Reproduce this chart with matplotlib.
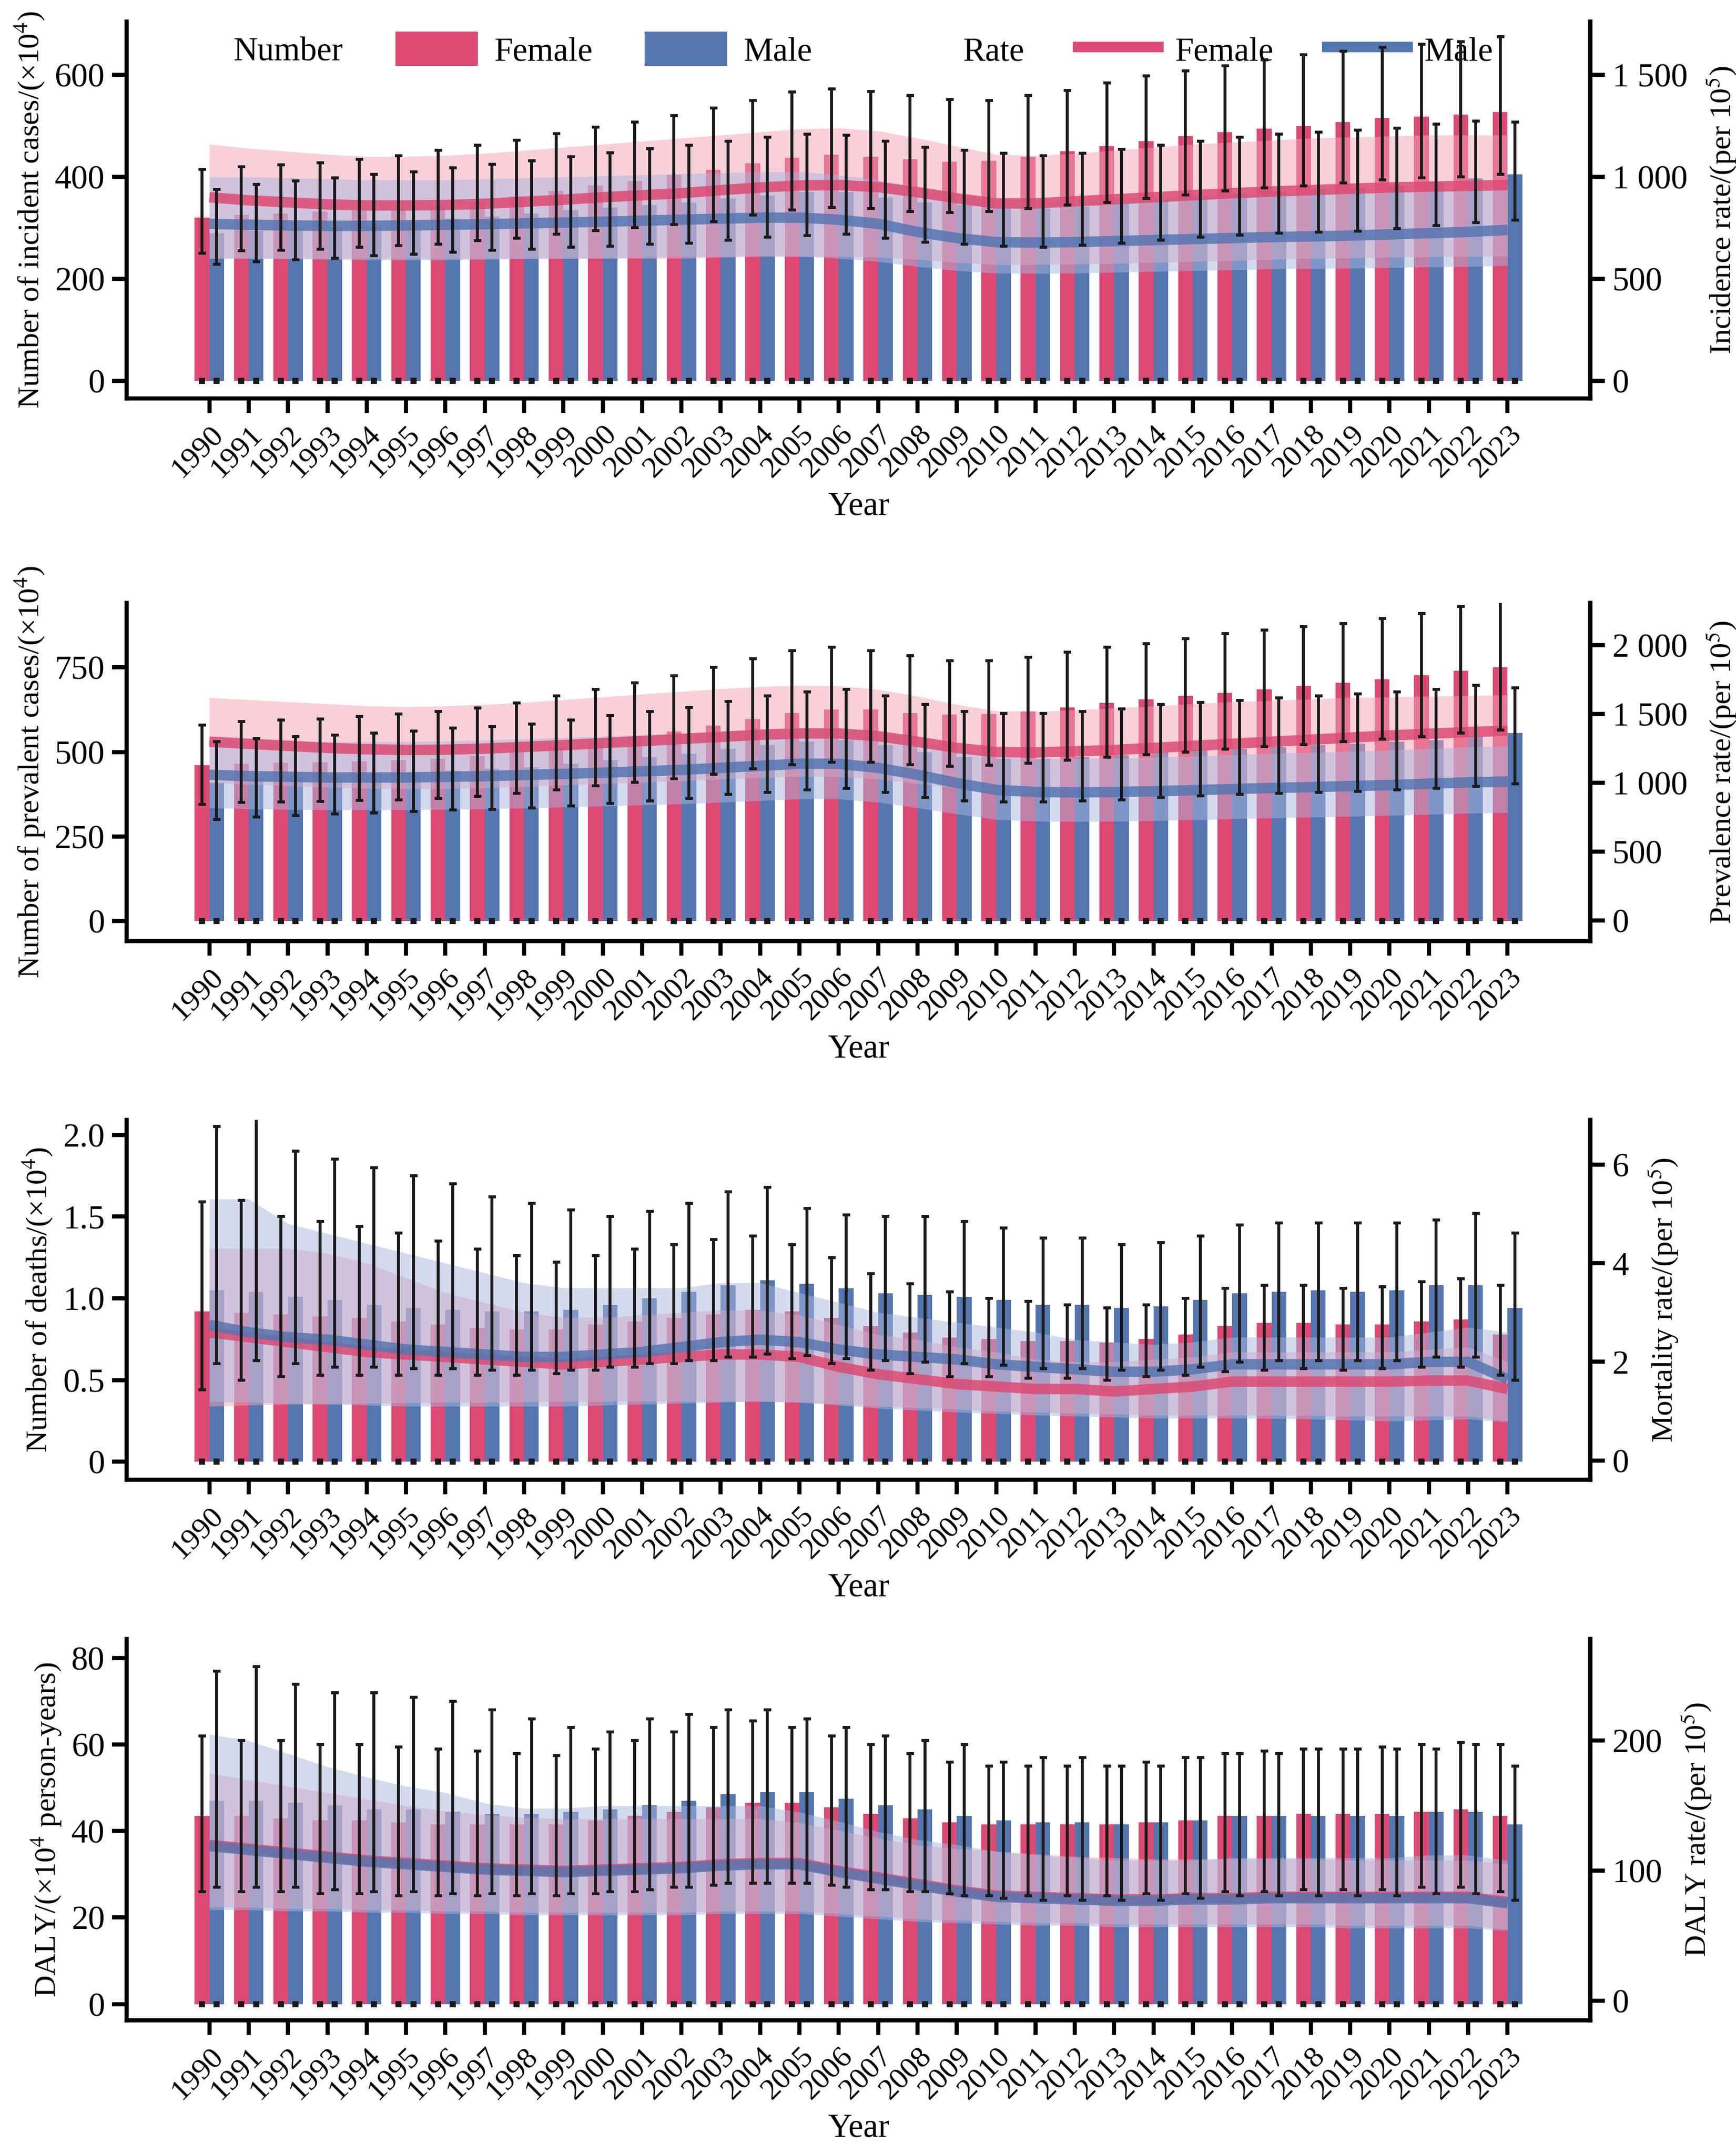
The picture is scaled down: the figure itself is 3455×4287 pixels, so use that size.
import matplotlib
matplotlib.use("Agg")
import matplotlib.pyplot as plt
import numpy as np
from matplotlib.patches import Patch
from matplotlib.lines import Line2D

plt.rcParams['font.family'] = ['Liberation Serif', 'DejaVu Serif']
plt.rcParams['mathtext.fontset'] = 'stix'

years = list(range(1990, 2024))

# ---- incidence ----
inc_f = [320, 325, 328, 332, 335, 338, 343, 350, 362, 372, 383, 392, 404, 414, 427, 438, 443, 440, 435, 430,
         432, 440, 450, 460, 470, 480, 488, 495, 500, 508, 515, 518, 522, 527]
inc_f_lo = [250, 255, 256, 258, 262, 265, 268, 275, 280, 288, 295, 300, 306, 312, 325, 335, 340, 338, 332, 330,
            332, 338, 345, 350, 358, 365, 372, 378, 382, 388, 394, 398, 400, 405]
inc_f_hi = [415, 420, 424, 428, 435, 442, 452, 462, 472, 485, 498, 508, 520, 535, 550, 567, 573, 568, 560, 552,
            550, 560, 570, 585, 598, 608, 618, 630, 640, 647, 655, 660, 665, 675]
inc_m = [290, 295, 298, 300, 303, 310, 318, 322, 328, 335, 340, 345, 350, 358, 364, 370, 370, 360, 350, 345,
         340, 338, 342, 348, 355, 362, 368, 372, 375, 378, 382, 390, 397, 405]
inc_m_lo = [228, 233, 237, 240, 245, 248, 252, 256, 258, 262, 264, 268, 270, 276, 282, 285, 288, 280, 272, 268,
            264, 262, 266, 270, 276, 282, 286, 290, 292, 294, 298, 304, 310, 315]
inc_m_hi = [375, 385, 392, 398, 405, 410, 418, 425, 432, 440, 447, 455, 462, 470, 478, 484, 482, 470, 458, 452,
            446, 442, 446, 454, 462, 470, 478, 484, 488, 492, 496, 504, 510, 508]
inc_rf = [900, 885, 875, 865, 860, 860, 862, 868, 878, 888, 900, 910, 920, 935, 948, 958, 960, 950, 925, 895,
          870, 870, 880, 890, 900, 910, 920, 928, 935, 942, 948, 952, 956, 960]
inc_rf_hi = [1160, 1140, 1125, 1110, 1100, 1100, 1105, 1115, 1130, 1145, 1160, 1175, 1190, 1205, 1220, 1235, 1240,
             1225, 1190, 1150, 1110, 1105, 1115, 1130, 1145, 1160, 1170, 1180, 1190, 1195, 1200, 1205, 1205, 1205]
inc_rf_lo = [600, 600, 600, 600, 600, 600, 600, 600, 600, 600, 600, 600, 600, 605, 610, 610, 610, 605, 595, 580,
             570, 570, 572, 575, 580, 585, 590, 595, 600, 602, 605, 608, 610, 612]
inc_rm = [770, 765, 762, 760, 760, 762, 765, 768, 772, 776, 780, 785, 790, 795, 800, 800, 790, 770, 730, 700,
          680, 678, 680, 685, 690, 695, 700, 705, 708, 712, 718, 724, 730, 740]
inc_rm_hi = [1000, 1000, 995, 990, 985, 985, 985, 990, 995, 1000, 1005, 1010, 1015, 1020, 1025, 1025, 1010, 985,
             950, 915, 890, 888, 890, 895, 900, 905, 910, 915, 920, 925, 930, 935, 940, 950]
inc_rm_lo = [600, 600, 598, 595, 592, 592, 592, 595, 598, 600, 602, 605, 608, 610, 612, 610, 600, 585, 560, 540,
             528, 526, 528, 532, 536, 540, 544, 548, 550, 552, 555, 558, 560, 565]

# ---- prevalence ----
pre_f = [460, 465, 468, 470, 472, 475, 480, 488, 500, 515, 530, 545, 560, 578, 598, 615, 625, 625, 615, 610,
         612, 620, 632, 645, 655, 665, 675, 685, 695, 705, 715, 727, 740, 750]
pre_f_lo = [345, 350, 352, 354, 356, 358, 362, 368, 377, 388, 400, 410, 420, 434, 450, 462, 470, 470, 462, 458,
            460, 466, 475, 485, 492, 500, 508, 515, 522, 530, 538, 546, 556, 564]
pre_f_hi = [580, 590, 595, 598, 605, 612, 620, 630, 645, 665, 685, 705, 725, 750, 775, 800, 810, 800, 785, 770,
            770, 780, 795, 810, 820, 835, 850, 860, 870, 880, 895, 910, 930, 950]
pre_m = [410, 420, 425, 430, 435, 440, 445, 450, 455, 465, 475, 485, 495, 510, 520, 530, 535, 520, 500, 485,
         480, 480, 485, 490, 500, 505, 510, 515, 520, 525, 530, 535, 545, 555]
pre_m_lo = [300, 308, 312, 316, 320, 324, 328, 330, 334, 340, 348, 355, 362, 374, 380, 388, 392, 380, 366, 355,
            352, 352, 355, 358, 366, 370, 374, 377, 380, 384, 388, 392, 398, 406]
pre_m_hi = [530, 540, 545, 550, 556, 562, 570, 575, 582, 595, 608, 620, 632, 650, 665, 678, 685, 665, 640, 620,
            614, 614, 620, 627, 640, 646, 652, 660, 665, 672, 678, 685, 697, 690]
pre_rf = [1300, 1285, 1270, 1255, 1245, 1240, 1242, 1250, 1262, 1275, 1290, 1305, 1320, 1335, 1350, 1360, 1360,
          1340, 1300, 1255, 1225, 1222, 1230, 1240, 1255, 1270, 1285, 1300, 1315, 1330, 1345, 1358, 1370, 1380]
pre_rf_hi = [1620, 1605, 1590, 1575, 1560, 1555, 1560, 1570, 1585, 1605, 1625, 1645, 1665, 1685, 1700, 1710, 1705,
             1680, 1630, 1570, 1525, 1520, 1530, 1545, 1560, 1575, 1590, 1600, 1610, 1620, 1625, 1630, 1635, 1640]
pre_rf_lo = [1000, 990, 980, 970, 962, 958, 960, 965, 975, 985, 995, 1005, 1015, 1028, 1040, 1048, 1045, 1030, 995,
             960, 935, 932, 940, 950, 962, 975, 985, 995, 1005, 1015, 1025, 1035, 1045, 1055]
pre_rm = [1060, 1050, 1045, 1040, 1040, 1040, 1045, 1050, 1058, 1066, 1075, 1085, 1095, 1110, 1125, 1140, 1140,
          1110, 1060, 1000, 950, 935, 932, 935, 940, 948, 956, 964, 970, 978, 985, 995, 1005, 1010]
pre_rm_hi = [1320, 1310, 1305, 1300, 1300, 1300, 1305, 1312, 1320, 1330, 1340, 1350, 1360, 1375, 1390, 1405, 1400,
             1370, 1310, 1245, 1195, 1180, 1178, 1180, 1185, 1195, 1205, 1215, 1222, 1230, 1240, 1250, 1262, 1270]
pre_rm_lo = [820, 812, 808, 805, 805, 805, 808, 812, 818, 825, 832, 840, 848, 860, 872, 884, 884, 860, 820, 775,
             735, 722, 720, 722, 726, 732, 740, 746, 752, 758, 764, 772, 780, 785]

# ---- deaths ----
dea_f = [0.92, 0.91, 0.90, 0.89, 0.88, 0.86, 0.84, 0.82, 0.81, 0.81, 0.84, 0.86, 0.88, 0.90, 0.93, 0.92, 0.88,
         0.83, 0.79, 0.76, 0.75, 0.74, 0.74, 0.73, 0.75, 0.78, 0.83, 0.85, 0.85, 0.84, 0.84, 0.86, 0.87, 0.78]
dea_f_lo = [0.44, 0.50, 0.52, 0.53, 0.53, 0.53, 0.53, 0.53, 0.53, 0.54, 0.56, 0.58, 0.60, 0.62, 0.64, 0.63, 0.60,
            0.56, 0.54, 0.52, 0.52, 0.51, 0.51, 0.50, 0.52, 0.53, 0.55, 0.56, 0.57, 0.56, 0.57, 0.58, 0.58, 0.53]
dea_f_hi = [1.59, 1.60, 1.50, 1.47, 1.44, 1.40, 1.35, 1.30, 1.26, 1.22, 1.26, 1.30, 1.33, 1.36, 1.38, 1.33, 1.25,
            1.15, 1.09, 1.04, 1.00, 0.98, 0.96, 0.94, 0.96, 1.00, 1.06, 1.08, 1.08, 1.06, 1.07, 1.10, 1.12, 1.08]
dea_m = [1.05, 1.04, 1.01, 0.99, 0.96, 0.94, 0.93, 0.92, 0.92, 0.93, 0.96, 1.00, 1.04, 1.08, 1.11, 1.09, 1.06,
         1.03, 1.02, 1.01, 0.99, 0.96, 0.96, 0.94, 0.95, 0.99, 1.03, 1.04, 1.05, 1.04, 1.05, 1.08, 1.08, 0.94]
dea_m_lo = [0.60, 0.62, 0.60, 0.58, 0.58, 0.57, 0.57, 0.56, 0.56, 0.56, 0.58, 0.60, 0.62, 0.64, 0.66, 0.65, 0.63,
            0.62, 0.61, 0.60, 0.59, 0.57, 0.57, 0.56, 0.56, 0.58, 0.61, 0.62, 0.62, 0.62, 0.62, 0.64, 0.64, 0.50]
dea_m_hi = [2.05, 2.10, 1.90, 1.85, 1.80, 1.75, 1.70, 1.62, 1.58, 1.54, 1.50, 1.53, 1.58, 1.65, 1.68, 1.55, 1.51,
            1.50, 1.50, 1.47, 1.43, 1.37, 1.37, 1.33, 1.34, 1.38, 1.45, 1.46, 1.46, 1.46, 1.46, 1.48, 1.52, 1.40]
dea_rf = [2.60, 2.50, 2.40, 2.30, 2.20, 2.15, 2.10, 2.05, 2.00, 1.95, 2.00, 2.05, 2.10, 2.15, 2.15, 2.10, 1.90,
          1.75, 1.65, 1.55, 1.50, 1.45, 1.45, 1.40, 1.45, 1.50, 1.60, 1.60, 1.60, 1.60, 1.60, 1.62, 1.62, 1.45]
dea_rf_hi = [4.30, 4.30, 4.30, 4.20, 4.00, 3.70, 3.40, 3.20, 3.00, 2.90, 2.90, 2.95, 3.00, 3.05, 3.05, 2.95, 2.75,
             2.55, 2.45, 2.30, 2.20, 2.05, 2.00, 2.00, 2.05, 2.10, 2.20, 2.20, 2.20, 2.20, 2.20, 2.25, 2.30, 2.00]
dea_rf_lo = [1.10, 1.12, 1.14, 1.15, 1.16, 1.17, 1.18, 1.18, 1.19, 1.20, 1.20, 1.20, 1.20, 1.20, 1.20, 1.18, 1.15,
             1.10, 1.07, 1.04, 1.00, 0.98, 0.96, 0.94, 0.92, 0.92, 0.92, 0.92, 0.91, 0.90, 0.90, 0.90, 0.90, 0.80]
dea_rm = [2.75, 2.60, 2.50, 2.45, 2.35, 2.25, 2.20, 2.15, 2.10, 2.10, 2.15, 2.20, 2.30, 2.40, 2.45, 2.40, 2.25,
          2.15, 2.10, 2.05, 1.95, 1.90, 1.85, 1.80, 1.80, 1.85, 1.95, 1.95, 1.95, 1.95, 1.95, 2.00, 2.00, 1.65]
dea_rm_hi = [5.30, 5.30, 4.80, 4.60, 4.40, 4.20, 4.00, 3.80, 3.60, 3.50, 3.50, 3.50, 3.50, 3.60, 3.60, 3.40, 3.20,
             3.00, 2.90, 2.80, 2.70, 2.60, 2.45, 2.40, 2.35, 2.40, 2.50, 2.50, 2.50, 2.50, 2.50, 2.60, 2.70, 2.60]
dea_rm_lo = [1.20, 1.18, 1.16, 1.14, 1.12, 1.10, 1.10, 1.10, 1.10, 1.10, 1.12, 1.14, 1.16, 1.18, 1.20, 1.18, 1.12,
             1.06, 1.02, 0.98, 0.95, 0.92, 0.90, 0.88, 0.86, 0.86, 0.86, 0.85, 0.84, 0.82, 0.80, 0.82, 0.84, 0.78]

# ---- DALY ----
dal_f = [43.5, 43.5, 43, 42.5, 42.5, 42, 41.5, 41.5, 41.5, 41.5, 42.5, 43.5, 44.5, 45.5, 46.5, 46.5, 45.5, 44, 43, 42,
         41.5, 41.5, 41.5, 41.5, 42, 42.5, 43.5, 43.5, 44, 44, 44, 44.5, 45, 43.5]
dal_f_lo = [26, 26, 26, 25.5, 25.5, 25, 25, 25, 25, 25, 25.5, 26, 27, 27.5, 28, 28, 27.5, 26.5, 26, 25.5,
            25, 25, 25, 25, 25.5, 25.5, 26, 26, 26.5, 26.5, 26.5, 27, 27, 26]
dal_f_hi = [62, 61, 61, 60, 60, 59.5, 59, 58.5, 58, 57.5, 59, 61, 63, 64, 65.5, 64, 62, 60, 58, 56,
            55, 55, 55, 55, 56, 57, 58, 58.5, 59, 59, 59.5, 60, 60.5, 60]
dal_m = [47, 47, 46.5, 46, 45, 45, 44.5, 44, 44, 44.5, 45, 46, 47, 48.5, 49, 49, 47.5, 46, 45, 43.5,
         42.5, 42, 42, 41.5, 42, 42.5, 43.5, 43.5, 43.5, 43.5, 43.5, 44.5, 44.5, 41.5]
dal_m_lo = [27, 27, 27, 26.5, 26, 26, 25.5, 25.5, 25.5, 25.5, 26, 26.5, 27, 28, 28, 28, 27, 26.5, 26, 25,
            24.5, 24, 24, 24, 24, 24.5, 25, 25, 25, 25, 25, 25.5, 25.5, 24]
dal_m_hi = [77, 78, 74, 72, 72, 71, 70, 68, 66, 64, 63, 66, 67, 68, 68, 66, 64, 62, 61, 60,
            56, 57, 57, 55, 55, 57, 58, 58, 59, 59, 59, 59, 60, 55]
dal_rf = [120, 117, 114, 111, 108, 106, 104, 102, 101, 100, 101, 102, 103, 105, 106, 106, 100, 95, 90, 85,
          81, 80, 79, 78, 78, 79, 79, 80, 80, 80, 80, 80, 80, 76]
dal_rf_hi = [175, 170, 165, 160, 155, 150, 146, 143, 141, 140, 140, 140, 140, 140, 140, 137, 131, 125, 120, 117,
             115, 113, 111, 110, 109, 109, 109, 109, 109, 108, 108, 108, 108, 105]
dal_rf_lo = [72, 72, 71, 71, 70, 70, 69, 69, 68, 68, 68, 68, 68, 69, 69, 69, 67, 65, 63, 62,
             61, 60, 60, 59, 59, 59, 59, 59, 59, 58, 58, 58, 58, 55]
dal_rm = [119, 116, 113, 110, 107, 105, 103, 101, 100, 99, 100, 101, 102, 104, 105, 105, 99, 94, 89, 84,
          80, 79, 78, 77, 77, 78, 78, 79, 79, 79, 79, 79, 79, 75]
dal_rm_hi = [205, 200, 190, 180, 172, 165, 160, 152, 148, 148, 150, 150, 150, 150, 150, 145, 138, 130, 124, 120,
             115, 112, 110, 108, 108, 108, 110, 110, 110, 110, 110, 112, 112, 108]
dal_rm_lo = [70, 70, 69, 69, 68, 68, 67, 67, 66, 66, 66, 66, 66, 67, 67, 67, 65, 63, 61, 60,
             59, 58, 58, 57, 57, 57, 57, 57, 57, 56, 56, 56, 56, 54]

F_COL = "#DC4A74"
M_COL = "#5676B0"
F_BAND = "#F4A3B5"
M_BAND = "#A9B6DE"
FS = 16      # tick / legend size
LFS = 14.5   # axis label size

panels = [
    dict(nf=inc_f, nfl=inc_f_lo, nfh=inc_f_hi, nm=inc_m, nml=inc_m_lo, nmh=inc_m_hi,
         rf=inc_rf, rfl=inc_rf_lo, rfh=inc_rf_hi, rm=inc_rm, rml=inc_rm_lo, rmh=inc_rm_hi,
         ylab="Number of incident cases/(×10$^4$)", rlab="Incidence rate/(per 10$^5$)",
         ylim=(-35, 705), rlim=(-87, 1762), yt=[0, 200, 400, 600], rt=[0, 500, 1000, 1500],
         rtl=["0", "500", "1 000", "1 500"], ytl=None, box=[0.073, 0.815, 0.843, 0.175]),
    dict(nf=pre_f, nfl=pre_f_lo, nfh=pre_f_hi, nm=pre_m, nml=pre_m_lo, nmh=pre_m_hi,
         rf=pre_rf, rfl=pre_rf_lo, rfh=pre_rf_hi, rm=pre_rm, rml=pre_rm_lo, rmh=pre_rm_hi,
         ylab="Number of prevalent cases/(×10$^4$)", rlab="Prevalence rate/(per 10$^5$)",
         ylim=(-60, 940), rlim=(-150, 2307), yt=[0, 250, 500, 750], rt=[0, 500, 1000, 1500, 2000],
         rtl=["0", "500", "1 000", "1 500", "2 000"], ytl=None, box=[0.073, 0.563, 0.843, 0.157]),
    dict(nf=dea_f, nfl=dea_f_lo, nfh=dea_f_hi, nm=dea_m, nml=dea_m_lo, nmh=dea_m_hi,
         rf=dea_rf, rfl=dea_rf_lo, rfh=dea_rf_hi, rm=dea_rm, rml=dea_rm_lo, rmh=dea_rm_hi,
         ylab="Number of deaths/(×10$^4$)", rlab="Mortality rate/(per 10$^5$)",
         ylim=(-0.11, 2.09), rlim=(-0.39, 6.9), yt=[0, 0.5, 1.0, 1.5, 2.0], rt=[0, 2, 4, 6],
         rtl=["0", "2", "4", "6"], ytl=["0", "0.5", "1.0", "1.5", "2.0"], box=[0.073, 0.313, 0.843, 0.167]),
    dict(nf=dal_f, nfl=dal_f_lo, nfh=dal_f_hi, nm=dal_m, nml=dal_m_lo, nmh=dal_m_hi,
         rf=dal_rf, rfl=dal_rf_lo, rfh=dal_rf_hi, rm=dal_rm, rml=dal_rm_lo, rmh=dal_rm_hi,
         ylab="DALY/(×10$^4$ person-years)", rlab="DALY rate/(per 10$^5$)",
         ylim=(-3.8, 84.4), rlim=(-15, 278), yt=[0, 20, 40, 60, 80], rt=[0, 100, 200],
         rtl=["0", "100", "200"], ytl=None, box=[0.073, 0.062, 0.843, 0.177]),
]

fig = plt.figure(figsize=(3455 / 300, 4287 / 300), dpi=300)
x = np.arange(len(years))
w = 0.375

for i, p in enumerate(panels):
    ax = fig.add_axes(p["box"])
    ax2 = ax.twinx()
    xf = x - w / 2
    xm = x + w / 2
    ax.bar(xf, p["nf"], width=w, color=F_COL, zorder=1)
    ax.bar(xm, p["nm"], width=w, color=M_COL, zorder=1)
    nf = np.array(p["nf"]); nm = np.array(p["nm"])
    ax2.fill_between(x, p["rfl"], p["rfh"], color=F_BAND, alpha=0.5, lw=0, zorder=1)
    ax2.fill_between(x, p["rml"], p["rmh"], color=M_BAND, alpha=0.5, lw=0, zorder=1)
    ax2.plot(x, p["rf"], color=F_COL, lw=5, alpha=0.85, zorder=2, solid_capstyle="butt")
    ax2.plot(x, p["rm"], color=M_COL, lw=5, alpha=0.85, zorder=2, solid_capstyle="butt")
    # error bars on top, in left-axis data coordinates
    for xs, v, lo, hi in [(xf, nf, p["nfl"], p["nfh"]), (xm, nm, p["nml"], p["nmh"])]:
        err = [v - np.array(lo), np.array(hi) - v]
        ax2.errorbar(xs, v, yerr=err, fmt="none", ecolor="#1a1a1a", elinewidth=1.4,
                     capsize=1.8, capthick=1.4, zorder=5, transform=ax.transData)
        ax2.plot(xs, np.zeros_like(v), ls="none", marker="s", ms=2.0, color="#1a1a1a",
                 transform=ax.transData, zorder=5)
    ax.set_xlim(-2.1, len(years) + 1.1)
    ax.set_ylim(*p["ylim"])
    ax2.set_ylim(*p["rlim"])
    ax.set_yticks(p["yt"])
    if p["ytl"]:
        ax.set_yticklabels(p["ytl"])
    ax2.set_yticks(p["rt"])
    ax2.set_yticklabels(p["rtl"])
    ax.set_xticks(x)
    ax.set_xticklabels([str(y) for y in years], rotation=45, ha="right", rotation_mode="anchor")
    for a in (ax, ax2):
        a.spines["top"].set_visible(False)
        for s in a.spines.values():
            s.set_linewidth(2)
        a.tick_params(labelsize=FS, width=2, length=7, direction="out")
    ax.tick_params(axis="x", labelsize=14.5)
    ax2.spines["left"].set_visible(False)
    ax2.spines["bottom"].set_visible(False)
    ax.set_ylabel(p["ylab"], fontsize=LFS, labelpad=4)
    ax2.set_ylabel(p["rlab"], fontsize=LFS, labelpad=8)
    ax.set_xlabel("Year", fontsize=FS, labelpad=4)

    if i == 0:
        blank = Patch(color="none")
        handles = [blank, Patch(color=F_COL), Patch(color=M_COL), blank,
                   Line2D([], [], color=F_COL, lw=5), Line2D([], [], color=M_COL, lw=5)]
        labels = ["Number", "Female", "Male", "Rate", "Female", "Male"]
        leg = ax.legend(handles, labels, ncol=6, loc="upper center", bbox_to_anchor=(0.47, 1.05),
                        frameon=False, fontsize=FS, handlelength=2.4, handleheight=1.1,
                        columnspacing=1.6, handletextpad=0.5)
        leg.set_zorder(10)

fig.savefig("out.png", dpi=300)
